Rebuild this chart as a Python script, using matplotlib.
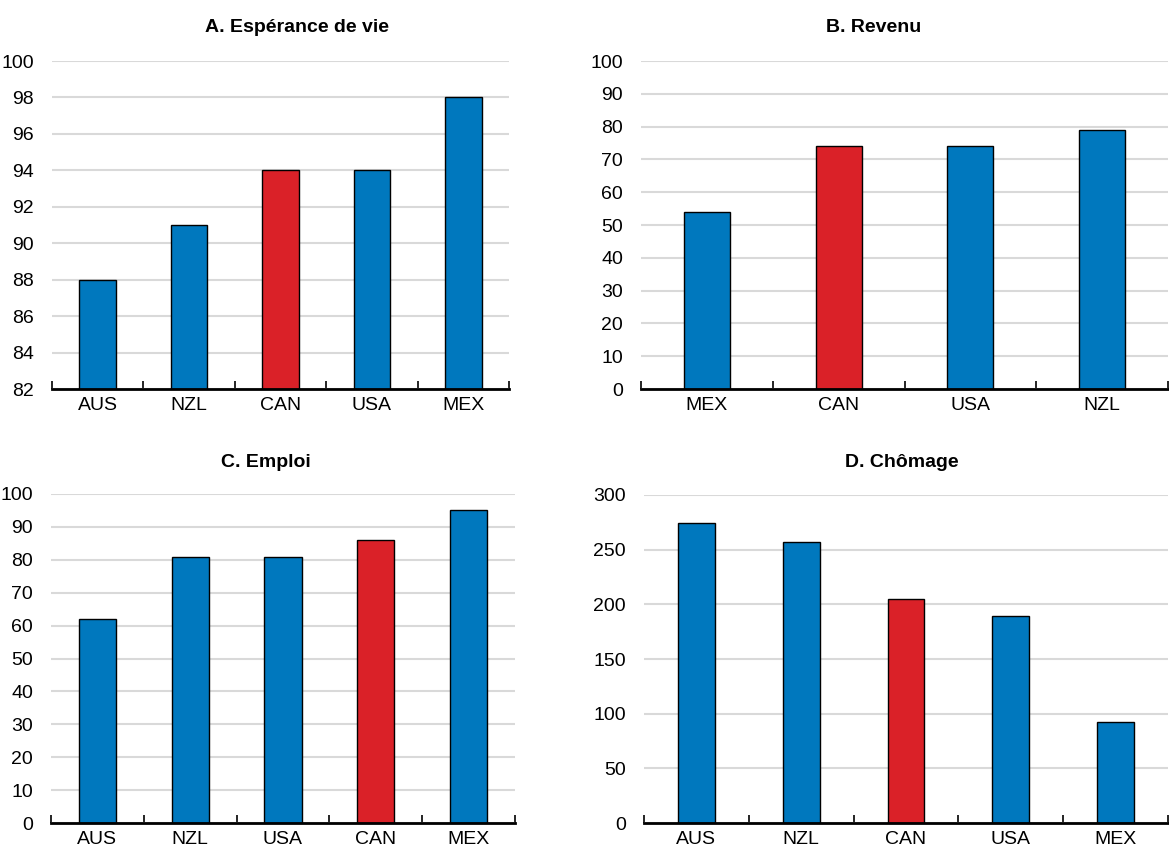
import numpy as np
import matplotlib.pyplot as plt
from matplotlib import font_manager

# données
cats_a = ["AUS", "NZL", "CAN", "USA", "MEX"]
vals_a = [88, 91, 94, 94, 98]
cats_b = ["MEX", "CAN", "USA", "NZL"]
vals_b = [54, 74, 74, 79]
cats_c = ["AUS", "NZL", "USA", "CAN", "MEX"]
vals_c = [62, 81, 81, 86, 95]
cats_d = ["AUS", "NZL", "CAN", "USA", "MEX"]
vals_d = [274, 257, 205, 189, 92]

BLUE = "#0078BE"
RED = "#DA2128"

names = {f.name for f in font_manager.fontManager.ttflist}
fam = "Liberation Sans Narrow" if "Liberation Sans Narrow" in names else "Liberation Sans"
plt.rcParams["font.family"] = [fam, "DejaVu Sans"]

fig = plt.figure(figsize=(11.69, 8.51), dpi=100)


def px_axes(left, top, right, bottom):
    W, H = 1169, 851
    return fig.add_axes([left / W, 1 - bottom / H, (right - left) / W, (bottom - top) / H])


def panel(ax, cats, vals, ylim, step, width):
    x = np.arange(len(cats))
    colors = [RED if c == "CAN" else BLUE for c in cats]
    ax.bar(x, np.array(vals) - ylim[0], bottom=ylim[0], width=width, color=colors,
           edgecolor="black", linewidth=1.0, zorder=3)
    ax.set_xlim(-0.5, len(cats) - 0.5)
    ax.set_ylim(*ylim)
    ax.set_yticks(np.arange(ylim[0], ylim[1] + step / 2, step))
    ax.yaxis.grid(True, color="#d9d9d9", linewidth=1.5, zorder=0)
    ax.set_axisbelow(True)
    for s in ["left", "right", "top"]:
        ax.spines[s].set_visible(False)
    ax.spines["bottom"].set_linewidth(2)
    ax.spines["bottom"].set_zorder(4)
    ax.set_xticks(x)
    ax.set_xticklabels(cats)
    ax.set_xticks(np.arange(-0.5, len(cats)), minor=True)
    ax.tick_params(axis="x", which="major", length=0, pad=6, labelsize=14)
    ax.tick_params(axis="x", which="minor", direction="in", length=6, width=1.2)
    ax.tick_params(axis="y", length=0, pad=13, labelsize=14)


ax_a = px_axes(52, 61, 509, 389)
panel(ax_a, cats_a, vals_a, (82, 100), 2, 0.4)
ax_b = px_axes(641, 61, 1168, 389)
panel(ax_b, cats_b, vals_b, (0, 100), 10, 0.35)
ax_c = px_axes(51, 494, 515, 823)
panel(ax_c, cats_c, vals_c, (0, 100), 10, 0.4)
ax_d = px_axes(644, 495, 1168, 823)
panel(ax_d, cats_d, vals_d, (0, 300), 50, 0.35)

fig.text(297 / 1169, 1 - 27 / 851, "A. Espérance de vie", ha="center", va="center",
         fontsize=14, fontweight="bold")
fig.text(874 / 1169, 1 - 27 / 851, "B. Revenu", ha="center", va="center",
         fontsize=14, fontweight="bold")
fig.text(266 / 1169, 1 - 462 / 851, "C. Emploi", ha="center", va="center",
         fontsize=14, fontweight="bold")
fig.text(902 / 1169, 1 - 462 / 851, "D. Chômage", ha="center", va="center",
         fontsize=14, fontweight="bold")

fig.savefig("out.png", dpi=100)
